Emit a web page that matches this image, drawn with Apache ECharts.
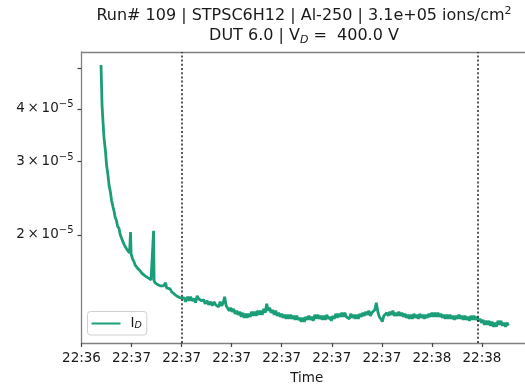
<!DOCTYPE html>
<html>
<head>
<meta charset="utf-8">
<script src="https://cdn.jsdelivr.net/npm/echarts@6/dist/echarts.min.js"></script>
<style>
  html, body { margin: 0; padding: 0; background: #fff; }
  #chart { width: 525px; height: 390px; }
</style>
</head>
<body>
<div id="chart"></div>
<script>
// Drain current I_D during run 109, time in seconds after the start clock.
const startClock = '22:36:50';
const elapsedSec = [
  3.9, 4.0, 4.1, 4.3, 4.5, 4.8, 5.0, 5.3, 5.5, 5.8, 6.0, 6.3, 6.5, 6.7, 7.0, 7.2, 7.5, 7.7,
  8.0, 8.2, 8.5, 8.7, 9.0, 9.3, 9.6, 9.8, 9.9, 10.2, 10.5, 10.7, 11.0, 11.3, 11.7, 12.0,
  12.3, 12.7, 13.0, 13.3, 13.6, 13.9, 14.2, 14.4, 14.5, 14.7, 15.0, 15.3, 15.7, 16.0, 16.4,
  16.8, 17.0, 17.3, 17.7, 18.0, 18.3, 18.7, 19.0, 19.3, 19.7, 20.0,
  20.5, 20.8, 21.2, 21.5, 21.8, 22.1, 22.5, 22.8, 23.1, 23.4, 23.7, 24.0, 24.4, 24.7, 25.1,
  25.4, 25.8, 26.1, 26.5, 26.8, 27.1, 27.4, 27.7, 28.0, 28.3, 28.6, 28.9, 29.2, 29.5, 29.8,
  30.1, 30.4, 30.7, 31.0, 31.3, 31.6, 31.9, 32.2, 32.5, 32.8, 33.1, 33.4, 33.7, 34.0, 34.3,
  34.6, 34.9, 35.2, 35.5, 35.8, 36.1, 36.4, 36.7, 37.0, 37.3, 37.6, 37.9, 38.2, 38.5, 38.8,
  39.1, 39.4, 39.7, 40.0, 40.3, 40.6, 40.9, 41.2, 41.5, 41.8, 42.1, 42.4, 42.7, 43.0, 43.3,
  43.6, 43.9, 44.2, 44.5, 44.8, 45.1, 45.4, 45.7, 46.0, 46.3, 46.6, 46.9, 47.2, 47.5, 47.8,
  48.1, 48.4, 48.7, 49.0, 49.3, 49.6, 49.9, 50.2, 50.5, 50.8, 51.1, 51.4, 51.7, 52.0, 52.3,
  52.6, 52.9, 53.2, 53.5, 53.8, 54.1, 54.4, 54.7, 55.0, 55.3, 55.6, 55.9, 56.2, 56.5, 56.8,
  57.1, 57.4, 57.7, 58.0, 58.3, 58.6, 58.9, 59.2, 59.5, 59.8, 60.1, 60.4, 60.7, 61.0, 61.3,
  61.6, 61.9, 62.2, 62.5, 62.8, 63.1, 63.4, 63.7, 64.0, 64.3, 64.6, 64.9, 65.2, 65.5, 65.8,
  66.1, 66.4, 66.7, 67.0, 67.3, 67.6, 67.9, 68.2, 68.5, 68.8, 69.1, 69.4, 69.7, 70.0, 70.3,
  70.6, 70.9, 71.2, 71.5, 71.8, 72.1, 72.4, 72.7, 73.0, 73.3, 73.6, 73.9, 74.2, 74.5, 74.8,
  75.1, 75.4, 75.7, 76.0, 76.3, 76.6, 76.9, 77.2, 77.5, 77.8, 78.1, 78.4, 78.7, 79.0, 79.3,
  79.6, 79.9, 80.2, 80.5, 80.8, 81.1, 81.4, 81.7, 82.0, 82.3, 82.6, 82.9, 83.2, 83.5, 83.8,
  84.1, 84.4, 84.7, 85.0, 85.3
];
// Current in microamperes
const currentUA = [
  50.9, 45.6, 40.9, 37.2, 34.1, 31.6, 29.4, 27.7, 26.3, 25.2, 24.2, 23.3, 22.8, 22.1, 21.6, 21.0, 20.7, 20.1,
  19.9, 19.35, 19.14, 18.76, 18.52, 18.32, 18.12, 20.3, 18.02, 17.53, 17.24, 16.96, 16.87, 16.59, 16.41, 16.22,
  16.31, 15.96, 15.88, 15.78, 15.88, 15.61, 15.53, 20.45, 15.53, 15.36, 15.45, 15.19, 15.11, 15.03, 15.11,
  15.36, 14.94, 14.78, 14.86, 14.62, 14.54, 14.38, 14.46, 14.22, 14.14, 13.99,
  14.14, 13.84, 14.22, 13.91, 14.22, 13.91, 14.07, 13.76, 14.30, 14.07, 14.22, 13.91, 13.99, 13.69, 13.91,
  13.61, 13.84, 13.54, 13.84, 13.61, 13.76, 13.46, 13.84, 13.54, 13.76, 14.22, 13.54, 13.46, 13.17, 13.39,
  13.10, 13.31, 12.95, 13.17, 12.88, 13.10, 12.74, 13.02, 12.67, 12.95, 12.67, 12.95, 12.74, 13.10, 12.81,
  13.10, 12.81, 13.17, 12.88, 13.17, 12.88, 13.31, 13.02, 13.69, 13.17, 13.39, 13.02, 13.24, 12.88, 13.17,
  12.81, 13.02, 12.74, 12.95, 12.67, 12.88, 12.60, 12.88, 12.60, 12.88, 12.60, 12.81, 12.53, 12.81, 12.53,
  12.67, 12.40, 12.67, 12.40, 12.74, 12.53, 12.81, 12.53, 12.74, 12.46, 12.88, 12.60, 12.88, 12.60, 12.81,
  12.53, 12.81, 12.53, 12.88, 12.60, 12.74, 12.46, 12.81, 12.60, 12.95, 12.67, 12.95, 12.74, 13.02, 12.74,
  13.02, 12.74, 12.88, 12.60, 12.95, 12.67, 12.88, 12.60, 12.88, 12.60, 12.95, 12.74, 13.02, 12.81, 13.10,
  12.88, 13.17, 12.81, 13.02, 12.95, 13.24, 13.76, 13.10, 12.74, 12.60, 12.40, 12.81, 12.67, 13.02, 12.81,
  13.10, 12.88, 13.17, 12.81, 13.02, 12.81, 13.10, 12.81, 13.02, 12.74, 12.95, 12.67, 12.88, 12.60, 12.88,
  12.60, 12.95, 12.67, 12.88, 12.60, 12.95, 12.67, 12.88, 12.60, 12.88, 12.67, 12.95, 12.74, 13.02, 12.74,
  13.02, 12.74, 13.02, 12.74, 12.95, 12.67, 12.88, 12.60, 12.88, 12.60, 12.88, 12.60, 12.81, 12.53, 12.81,
  12.60, 12.88, 12.60, 12.81, 12.53, 12.81, 12.53, 12.74, 12.46, 12.81, 12.53, 12.81, 12.53, 12.74, 12.46,
  12.60, 12.33, 12.53, 12.19, 12.46, 12.19, 12.46, 12.13, 12.40, 12.06, 12.33, 12.06, 12.46, 12.19, 12.46,
  12.13, 12.33, 12.06, 12.33, 12.13
];
// Dotted reference markers (seconds after start clock)
const markerSec = [20.0, 79.1];
// Axis ticks
const xTickSec = [0, 10, 20, 30, 40, 50, 60, 70, 80];
const yTickUA = [20, 30, 40, 50];
const yLabelUA = [20, 30, 40];

function clockToSec(s) {
  const p = s.split(':').map(Number);
  return p[0] * 3600 + p[1] * 60 + p[2];
}
const t0 = clockToSec(startClock);
function fmtClock(sec) {
  const total = Math.floor(t0 + sec);
  const h = Math.floor(total / 3600) % 24;
  const m = Math.floor((total % 3600) / 60);
  return String(h).padStart(2, '0') + ':' + String(m).padStart(2, '0');
}

const series = elapsedSec.map((t, i) => [t, currentUA[i] * 1e-6]);

const FONT = 'DejaVu Sans';
const SPINE = '#808080';
const TEXT = '#1a1a1a';
const chart = echarts.init(document.getElementById('chart'), null, { renderer: 'canvas' });

chart.setOption({
  animation: false,
  backgroundColor: '#fff',
  title: {
    left: 304,
    top: 6,
    padding: 0,
    textAlign: 'center',
    text: '{n|Run# 109 | STPSC6H12 | Al-250 | 3.1e+05 ions/cm}{sup|2}\n{n|DUT 6.0 | V}{sub|D}{n| =  400.0 V}',
    textStyle: {
      fontWeight: 'normal',
      rich: {
        n: { fontFamily: FONT, fontSize: 16, fontWeight: 'normal', color: TEXT, lineHeight: 20, verticalAlign: 'middle' },
        sup: { fontFamily: FONT, fontSize: 11, fontWeight: 'normal', color: TEXT, lineHeight: 11, verticalAlign: 'top' },
        sub: { fontFamily: FONT, fontSize: 11, fontWeight: 'normal', fontStyle: 'italic', color: TEXT, lineHeight: 8, verticalAlign: 'bottom' }
      }
    }
  },
  grid: {
    left: 81.5,
    top: 52,
    bottom: 47,
    right: -7,
    outerBoundsMode: 'none',
    containLabel: false,
    show: false
  },
  legend: {
    left: 87.5,
    top: 311.5,
    orient: 'vertical',
    backgroundColor: '#fff',
    borderColor: '#d0d0d0',
    borderWidth: 1,
    borderRadius: 3,
    padding: [5, 5, 4, 4],
    icon: 'rect',
    itemWidth: 29,
    itemHeight: 2,
    formatter: () => '{n|I}{sub|D}',
    textStyle: {
      rich: {
        n: { fontFamily: FONT, fontSize: 13.5, color: TEXT, padding: [0, 0, 0, 5], verticalAlign: 'middle', lineHeight: 15 },
        sub: { fontFamily: FONT, fontSize: 9.5, fontStyle: 'italic', color: TEXT, verticalAlign: 'bottom', lineHeight: 6 }
      }
    },
    data: [{ name: 'I_D' }]
  },
  xAxis: [{
    type: 'value',
    min: 0,
    max: 90,
    interval: 10,
    name: 'Time',
    nameLocation: 'middle',
    nameGap: 28,
    nameTextStyle: { fontFamily: FONT, fontSize: 13.5, color: TEXT },
    axisLine: { show: true, lineStyle: { color: SPINE, width: 1.3 } },
    axisTick: { show: true, length: 4, lineStyle: { color: '#444', width: 1.2 }, customValues: xTickSec },
    axisLabel: {
      customValues: xTickSec,
      fontFamily: FONT, fontSize: 13.5, color: TEXT, margin: 8,
      formatter: v => fmtClock(v)
    },
    splitLine: { show: false }
  }, {
    // top frame edge
    type: 'value',
    position: 'top',
    min: 0,
    max: 90,
    axisLine: { show: true, lineStyle: { color: SPINE, width: 1.3 } },
    axisTick: { show: false },
    axisLabel: { show: false },
    splitLine: { show: false }
  }],
  yAxis: {
    type: 'log',
    logBase: 10,
    min: 11.03e-6,
    max: 54.7e-6,
    axisLine: { show: true, lineStyle: { color: SPINE, width: 1.3 } },
    axisTick: { show: true, length: 4, lineStyle: { color: '#444', width: 1.2 }, customValues: yTickUA.map(v => v * 1e-6) },
    axisLabel: {
      customValues: yLabelUA.map(v => v * 1e-6),
      margin: 8,
      formatter: v => '{b|' + Math.round(v * 1e5) + '\u2009×\u200910}{e|−5}',
      rich: {
        b: { fontFamily: FONT, fontSize: 13.5, color: TEXT, lineHeight: 18, verticalAlign: 'middle' },
        e: { fontFamily: FONT, fontSize: 10, color: TEXT, lineHeight: 10, verticalAlign: 'top' }
      }
    },
    splitLine: { show: false },
    minorTick: { show: false }
  },
  series: [{
    name: 'I_D',
    type: 'line',
    data: series,
    symbol: 'none',
    showSymbol: false,
    sampling: null,
    clip: true,
    lineStyle: { color: '#1b9e77', width: 2.8 },
    itemStyle: { color: '#1b9e77' },
    markLine: {
      silent: true,
      symbol: ['none', 'none'],
      label: { show: false },
      lineStyle: { color: '#222', width: 1.5, type: [2, 2.2] },
      data: markerSec.map(x => ({ xAxis: x }))
    }
  }]
});
</script>
</body>
</html>
